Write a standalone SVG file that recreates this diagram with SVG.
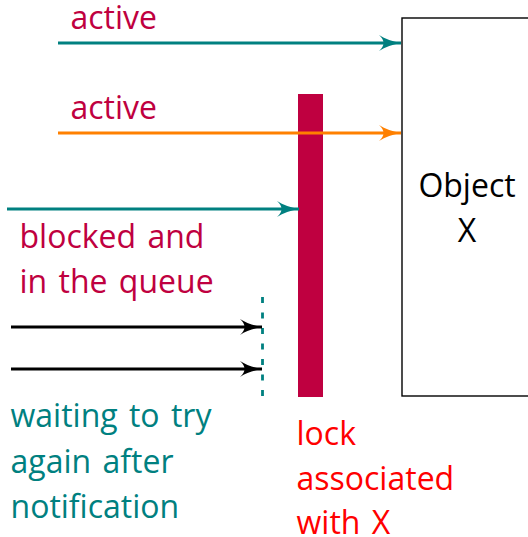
<svg xmlns="http://www.w3.org/2000/svg" width="528" height="537" viewBox="0 0 528 537">
  <style>
    text { font-family: "Open Sans", "DejaVu Sans", sans-serif; font-size: 32px; word-spacing: 3px; }
    .purple { fill: #BF0040; }
    .teal { fill: #008080; }
    .red { fill: #FF0000; }
    .black { fill: #000000; }
    .wire { fill: none; stroke-width: 3; }
  </style>
  <defs>
    <marker id="head-teal" viewBox="-23 -9 24 18" refX="0" refY="0" markerWidth="24" markerHeight="18" markerUnits="userSpaceOnUse" orient="auto">
      <path d="M0,0 C-8,-1.5 -16,-4 -22,-8 C-16,-2.5 -16,2.5 -22,8 C-16,4 -8,1.5 0,0 Z" fill="#008080"/>
    </marker>
    <marker id="head-orange" viewBox="-23 -9 24 18" refX="0" refY="0" markerWidth="24" markerHeight="18" markerUnits="userSpaceOnUse" orient="auto">
      <path d="M0,0 C-8,-1.5 -16,-4 -22,-8 C-16,-2.5 -16,2.5 -22,8 C-16,4 -8,1.5 0,0 Z" fill="#FF8000"/>
    </marker>
    <marker id="head-black" viewBox="-23 -9 24 18" refX="0" refY="0" markerWidth="24" markerHeight="18" markerUnits="userSpaceOnUse" orient="auto">
      <path d="M0,0 C-8,-1.5 -16,-4 -22,-8 C-16,-2.5 -16,2.5 -22,8 C-16,4 -8,1.5 0,0 Z" fill="#000000"/>
    </marker>
  </defs>

  <!-- Object X -->
  <g id="object-x">
    <rect x="402" y="18" width="140" height="378" fill="#FFFFFF" stroke="#000000" stroke-width="1.4"/>
    <text x="467" y="197" text-anchor="middle" class="black">Object</text>
    <text x="467" y="242" text-anchor="middle" class="black">X</text>
  </g>

  <!-- lock bar -->
  <g id="lock">
    <rect x="298" y="94" width="25" height="303" fill="#BF0040"/>
    <text class="red"><tspan x="296.5" y="445">lock</tspan><tspan x="296.5" y="490">associated</tspan><tspan x="296.5" y="534">with X</tspan></text>
  </g>

  <!-- wait-set barrier -->
  <g id="wait-set">
    <line x1="262.5" y1="297" x2="262.5" y2="397" stroke="#008080" stroke-width="2.8" stroke-dasharray="6 9.5"/>
    <text class="teal"><tspan x="10.5" y="427">waiting to try</tspan><tspan x="10.5" y="473">again after</tspan><tspan x="10.5" y="518">notification</tspan></text>
  </g>

  <!-- thread labels -->
  <g id="labels">
    <text x="70.5" y="29" class="purple">active</text>
    <text x="70.5" y="119" class="purple">active</text>
    <text class="purple"><tspan x="19.5" y="247.5">blocked and</tspan><tspan x="19.5" y="293">in the queue</tspan></text>
  </g>

  <!-- connectors -->
  <g id="connectors">
    <line class="wire" x1="58" y1="43" x2="401" y2="43" stroke="#008080" marker-end="url(#head-teal)"/>
    <line class="wire" x1="58" y1="133" x2="401" y2="133" stroke="#FF8000" marker-end="url(#head-orange)"/>
    <line class="wire" x1="7" y1="209" x2="299" y2="209" stroke="#008080" marker-end="url(#head-teal)"/>
    <line class="wire" x1="11" y1="327" x2="262" y2="327" stroke="#000000" marker-end="url(#head-black)"/>
    <line class="wire" x1="11" y1="369" x2="262" y2="369" stroke="#000000" marker-end="url(#head-black)"/>
  </g>
</svg>
